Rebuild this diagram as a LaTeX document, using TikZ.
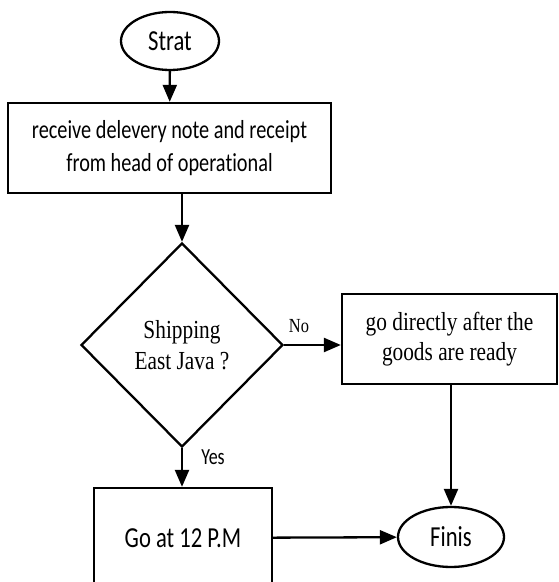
\documentclass[tikz,border=0pt]{standalone}
\usepackage{fontspec}
\setmainfont{Liberation Serif}[FakeStretch=0.82]
\newfontfamily\calibri{Carlito}[FakeStretch=0.78, Ligatures=NoCommon]
\usepackage{xcolor}
\usepackage{tikz}
\usetikzlibrary{arrows.meta}
\usetikzlibrary{shapes.geometric}
\tikzset{arrow/.style = {-{Triangle[length = 17pt, width = 14pt]}, line width = 2.3pt}}
\tikzset{terminal/.style = {ellipse, draw, line width = 2.3pt, inner sep = 0pt, font = \calibri\fontsize{29}{30}\selectfont}}
\tikzset{process/.style = {rectangle, draw, line width = 2.3pt, inner sep = 0pt, align = center}}
\tikzset{decision/.style = {diamond, draw, line width = 2.3pt, inner sep = 0pt, align = center, font = \fontsize{26}{31}\selectfont}}

\begin{document}
\begin{tikzpicture}[x=1pt,y=1pt]
\definecolor{fillColor}{RGB}{255,255,255}
\path[use as bounding box,fill=fillColor] (0,0) rectangle (559,582);

% nodes
\node[terminal, minimum width = 98, minimum height = 58] (start) at (170,541) {Strat};

\node[process, minimum width = 323, minimum height = 90, font = \calibri\fontsize{26}{33}\selectfont] (receive) at (169.5,434) {receive delevery note and receipt\\from head of operational};

\node[decision, minimum width = 202, minimum height = 204] (shipping) at (182,237) {Shipping\\East Java ?};

\node[process, minimum width = 215, minimum height = 90, font = \fontsize{26}{30}\selectfont] (direct) at (449.5,243) {go directly after the\\goods are ready};

\node[process, minimum width = 178, minimum height = 100, font = \calibri\fontsize{29}{30}\selectfont] (noon) at (183,44) {Go at 12 P.M};

\node[terminal, minimum width = 106, minimum height = 60] (finis) at (451,45) {Finis};

% labels
\node[font = \fontsize{20}{22}\selectfont] (no) at (299,256) {No};
\node[font = \calibri\fontsize{23}{25}\selectfont] (yes) at (213,125) {Yes};

% connectors
\draw[arrow] (start) -- (receive);
\draw[arrow] (receive.south -| shipping.north) -- (shipping.north);
\draw[arrow] (shipping.east) -- (shipping.east -| direct.west);
\draw[arrow] (shipping.south) -- (shipping.south |- noon.north);
\draw[arrow] (noon) -- (finis);
\draw[arrow] (finis.north |- direct.south) -- (finis.north);
\end{tikzpicture}
\end{document}
